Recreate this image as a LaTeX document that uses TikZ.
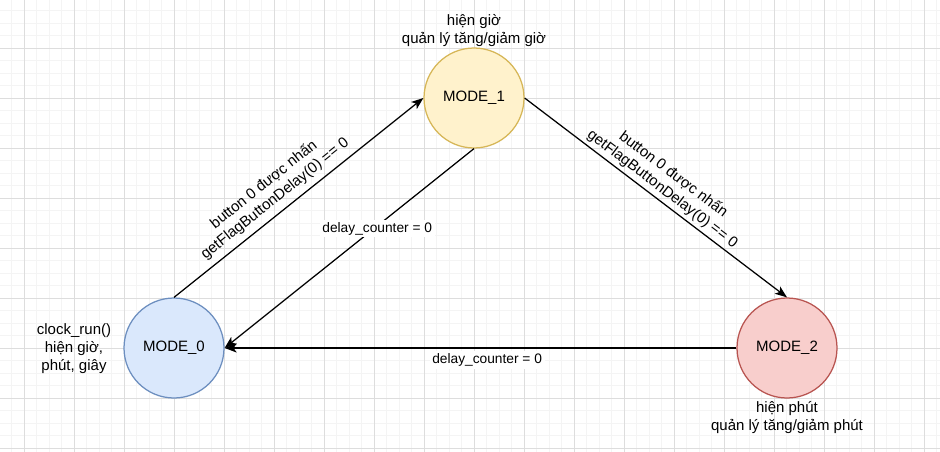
\documentclass[tikz,border=0pt]{standalone}
\usepackage{fontspec}
\setmainfont{Liberation Sans}
\usetikzlibrary{arrows.meta}
\definecolor{ClockGridMinor}{HTML}{F4F4F4}
\definecolor{ClockGridMajor}{HTML}{DDDDDD}
\definecolor{ClockBlueFill}{HTML}{DAE8FC}
\definecolor{ClockBlueLine}{HTML}{6C8EBF}
\definecolor{ClockGoldFill}{HTML}{FFF2CC}
\definecolor{ClockGoldLine}{HTML}{D6B656}
\definecolor{ClockRedFill}{HTML}{F8CECC}
\definecolor{ClockRedLine}{HTML}{B85450}

\begin{document}
\begin{tikzpicture}[x=1pt,y=-1pt,
    mode/.style={circle,minimum size=100pt,inner sep=0pt,line width=1.25pt,
      font=\fontsize{15}{18}\selectfont},
    note/.style={align=center,inner sep=0pt,font=\fontsize{15}{18}\selectfont},
    flow/.style={line width=1.25pt,-{Stealth[length=12pt,width=9pt,inset=3pt]}},
    cond/.style={sloped,align=center,inner sep=1pt,font=\fontsize{15}{18}\selectfont},
    reset/.style={fill=white,inner sep=2.5pt,font=\fontsize{13.75}{16.5}\selectfont}]
  \useasboundingbox (0,0) rectangle (940,452);
  \fill[white] (0,0) rectangle (940,452);

  % grid
  \foreach \i in {0,...,74}
    \draw[ClockGridMinor,line width=1pt] ({11.8+12.5*\i},0) -- ({11.8+12.5*\i},452);
  \foreach \i in {0,...,35}
    \draw[ClockGridMinor,line width=1pt] (0,{10.8+12.5*\i}) -- (940,{10.8+12.5*\i});
  \foreach \i in {0,...,18}
    \draw[ClockGridMajor,line width=1pt] ({24.3+50*\i},0) -- ({24.3+50*\i},452);
  \foreach \i in {0,...,8}
    \draw[ClockGridMajor,line width=1pt] (0,{48.3+50*\i}) -- (940,{48.3+50*\i});

  % states
  \node[mode,fill=ClockBlueFill,draw=ClockBlueLine] (mode0) at (174,348) {MODE\_0};
  \node[mode,fill=ClockGoldFill,draw=ClockGoldLine] (mode1) at (474,98) {MODE\_1};
  \node[mode,fill=ClockRedFill,draw=ClockRedLine] (mode2) at (787,348) {MODE\_2};

  \node[note] (note1) at (474,31) {hiện giờ\\quản lý tăng/giảm giờ};
  \node[note] (note0) at (74,349) {clock\_run()\\hiện giờ,\\phút, giây};
  \node[note] (note2) at (787,418) {hiện phút\\quản lý tăng/giảm phút};

  % transitions
  \draw[flow] (mode0.north) -- (mode1.west)
    node[cond,pos=0.44,above=5pt] (up01) {button 0 được nhấn\\getFlagButtonDelay(0) == 0};
  \draw[flow] (mode1.east) -- (mode2.north)
    node[cond,pos=0.5,above=2pt] (up12) {button 0 được nhấn\\getFlagButtonDelay(0) == 0};
  \draw[flow] (mode1.south) -- (mode0.east)
    node[reset,pos=0.388,yshift=-2.5pt] (back10) {delay\_counter = 0};
  \draw[flow] (mode2.west) -- (mode0.east)
    node[reset,pos=0.487,below=2.5pt] (back20) {delay\_counter = 0};
\end{tikzpicture}
\end{document}
